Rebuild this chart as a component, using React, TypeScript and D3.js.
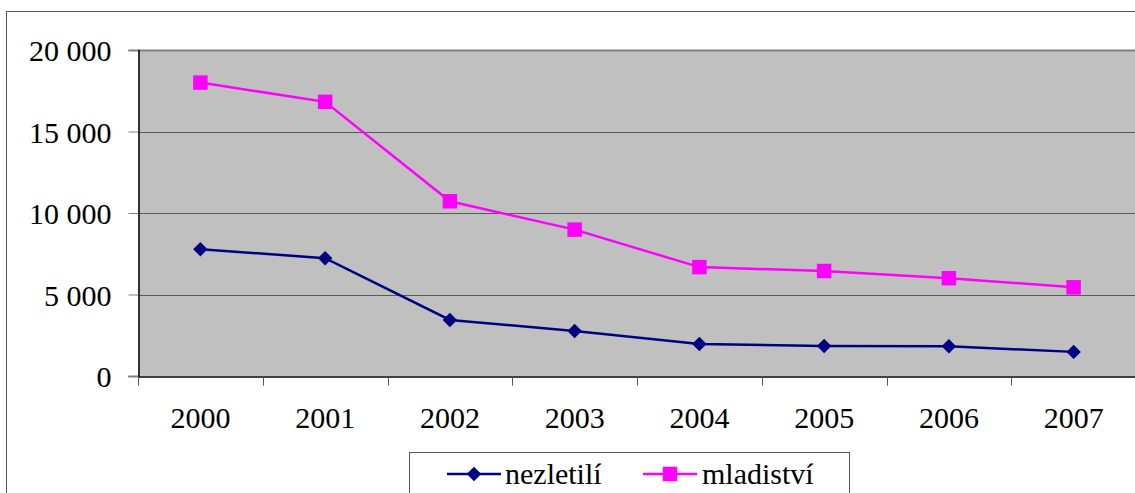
import React, { useEffect, useRef } from 'react';
import * as d3 from 'd3';

const years = ['2000', '2001', '2002', '2003', '2004', '2005', '2006', '2007'];
const nezletili = [7780, 7230, 3440, 2760, 1960, 1840, 1820, 1480];
const mladistvi = [18000, 16820, 10720, 8980, 6680, 6440, 6000, 5440];
const yTicks = [0, 5000, 10000, 15000, 20000];
const seriesNames = ['nezletilí', 'mladiství'];
const seriesColors = ['#000080', '#FF00FF'];

const W = 1135, H = 493;
const margin = { top: 50, left: 138, right: -1, bottom: 117 };
const font = '"Liberation Serif", "DejaVu Serif", serif';

const fmt = (v: number) => (v === 0 ? '0' : d3.format(',')(v).replace(/,/g, ' '));

const App = () => {
    const ref = useRef<SVGSVGElement>(null);

    useEffect(() => {
        const svg = d3.select(ref.current);
        svg.selectAll('*').remove();

        const x0 = margin.left, x1 = W - margin.right;
        const yb = H - margin.bottom, yt = margin.top;

        const x = d3.scaleBand().domain(years).range([x0, x1]);
        const y = d3.scaleLinear().domain([0, 20000]).range([yb, yt]);

        // outer chart frame
        svg.append('rect')
            .attr('x', 6.5).attr('y', 11.5)
            .attr('width', 1300).attr('height', 600)
            .attr('fill', 'white').attr('stroke', '#555');

        // plot area
        svg.append('rect')
            .attr('x', x0).attr('y', yt)
            .attr('width', x1 - x0).attr('height', yb - yt)
            .attr('fill', '#C0C0C0');

        // gridlines
        svg.append('g')
            .selectAll('line')
            .data(yTicks.filter(d => d > 0))
            .join('line')
            .attr('x1', x0).attr('x2', x1)
            .attr('y1', d => Math.round(y(d)) + 0.5)
            .attr('y2', d => Math.round(y(d)) + 0.5)
            .attr('stroke', d => (d === 20000 ? '#808080' : '#5a5a5a'))
            .attr('stroke-width', d => (d === 20000 ? 2 : 1));

        // y axis
        const yAxis = svg.append('g')
            .attr('transform', `translate(${x0 + 0.5},0)`)
            .call(d3.axisLeft(y).tickValues(yTicks).tickSize(10).tickPadding(17).tickFormat(d => fmt(+d)));
        yAxis.attr('font-family', font).attr('font-size', 30);
        yAxis.select('.domain').attr('stroke', '#000').attr('stroke-width', 1.5);
        yAxis.selectAll('.tick line').attr('stroke', '#808080');
        yAxis.selectAll('.tick text').attr('fill', '#000').attr('dy', '0.35em');

        // x axis
        const xAxis = svg.append('g')
            .attr('transform', `translate(0,${yb + 0.5})`)
            .call(d3.axisBottom(x).tickSize(0).tickPadding(30));
        xAxis.attr('font-family', font).attr('font-size', 30);
        xAxis.select('.domain').attr('stroke', '#000').attr('stroke-width', 1.5);
        xAxis.selectAll('.tick text').attr('fill', '#000');
        xAxis.append('g')
            .selectAll('line')
            .data(years)
            .join('line')
            .attr('x1', d => Math.round(x(d)!) + 0.5)
            .attr('x2', d => Math.round(x(d)!) + 0.5)
            .attr('y1', 0).attr('y2', 9)
            .attr('stroke', '#555');

        const cx = (d: string) => x(d)! + x.bandwidth() / 2;
        const line = d3.line<number>().x((_, i) => cx(years[i])).y(d => y(d));

        const drawSeries = (vals: number[], color: string, shape: 'diamond' | 'square') => {
            svg.append('path')
                .attr('d', line(vals))
                .attr('fill', 'none')
                .attr('stroke', color)
                .attr('stroke-width', 2.5);
            const sym = d3.symbol()
                .type(d3.symbolSquare)
                .size(shape === 'diamond' ? 105 : 210);
            svg.append('g')
                .selectAll('path')
                .data(vals)
                .join('path')
                .attr('d', sym)
                .attr('transform', (d, i) =>
                    `translate(${cx(years[i])},${y(d)})` + (shape === 'diamond' ? ' rotate(45)' : ''))
                .attr('fill', color);
        };

        drawSeries(mladistvi, seriesColors[1], 'square');
        drawSeries(nezletili, seriesColors[0], 'diamond');

        // legend
        const lg = svg.append('g').attr('font-family', font).attr('font-size', 30);
        lg.append('rect')
            .attr('x', 409.5).attr('y', 452.5)
            .attr('width', 440).attr('height', 60)
            .attr('fill', 'white').attr('stroke', '#555');
        const items = [
            { x: 447, tx: 505, shape: 'diamond' },
            { x: 643, tx: 702, shape: 'square' },
        ];
        items.forEach((it, i) => {
            const ly = 474;
            lg.append('line')
                .attr('x1', it.x).attr('x2', it.x + 54)
                .attr('y1', ly).attr('y2', ly)
                .attr('stroke', seriesColors[i]).attr('stroke-width', 2.5);
            lg.append('path')
                .attr('d', d3.symbol().type(d3.symbolSquare).size(it.shape === 'diamond' ? 105 : 210)())
                .attr('transform', `translate(${it.x + 27},${ly})` + (it.shape === 'diamond' ? ' rotate(45)' : ''))
                .attr('fill', seriesColors[i]);
            lg.append('text')
                .attr('x', it.tx).attr('y', 484)
                .text(seriesNames[i]);
        });
    }, []);

    return (
        <svg ref={ref} width={W} height={H}
            style={{ position: 'absolute', left: 0, top: 0, background: 'white' }} />
    );
};

export default App;
